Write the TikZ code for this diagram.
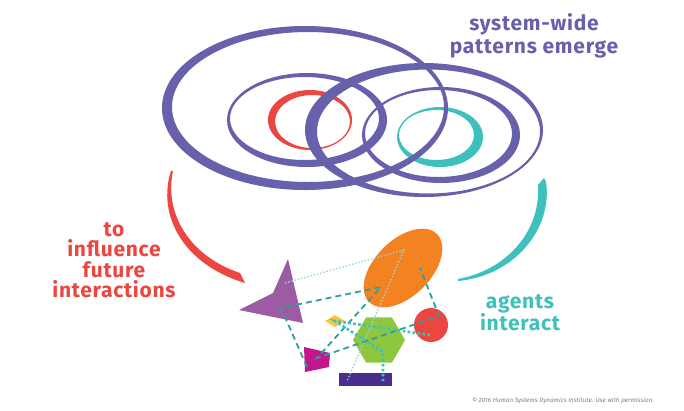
\documentclass[tikz,border=0pt]{standalone}
\usepackage{fontspec}
\setmainfont{Fira Sans}
\usetikzlibrary{shapes.geometric}

\begin{document}
\begin{tikzpicture}[x=1pt,y=-1pt,
    ring/.style={even odd rule},
    bigtext/.style={inner sep=0pt,align=center,font=\fontsize{21}{23}\selectfont\bfseries\addfontfeatures{LetterSpace=3.5}},
    dashlink/.style={draw=hsd_link,line width=1.8pt,dash pattern=on 6pt off 4pt},
    dotlink/.style={draw=hsd_teal,line width=2.6pt,dash pattern=on 2.6pt off 2.4pt},
    faintlink/.style={draw=hsd_faint,line width=1.3pt,dash pattern=on 1.5pt off 1.8pt}]
    \definecolor{hsd_ring}{RGB}{103,96,170}
    \definecolor{hsd_red}{RGB}{236,70,64}
    \definecolor{hsd_teal}{RGB}{62,193,188}
    \definecolor{hsd_link}{RGB}{44,160,160}
    \definecolor{hsd_faint}{RGB}{150,214,214}
    \definecolor{hsd_orange}{RGB}{245,130,32}
    \definecolor{hsd_green}{RGB}{141,198,63}
    \definecolor{hsd_tri}{RGB}{157,91,164}
    \definecolor{hsd_magenta}{RGB}{193,23,141}
    \definecolor{hsd_bar}{RGB}{74,45,140}
    \definecolor{hsd_yellow}{RGB}{252,196,62}
    \useasboundingbox[fill=white] (0,0) rectangle (684,410);

    % the emerging patterns
    \fill[ring,hsd_red]  (310,120) ellipse (42pt and 30pt) (312.5,121.5) ellipse (37.5pt and 26.5pt);
    \fill[ring,hsd_teal] (440,137) ellipse (43pt and 30pt) (436.5,135) ellipse (37.5pt and 25pt);
    \fill[ring,hsd_ring] (307,120) ellipse (80pt and 47pt) (304.5,118.5) ellipse (74.5pt and 41.5pt);
    \fill[ring,hsd_ring] (441,135) ellipse (79pt and 48pt) (438.5,133.5) ellipse (73.5pt and 43.5pt);
    \fill[ring,hsd_ring] (305,108) ellipse (143pt and 82pt) (308,107) ellipse (136pt and 75pt);
    \fill[ring,hsd_ring] (424,130) ellipse (119pt and 67pt) (428.5,131.5) ellipse (111.5pt and 62pt);

    % the two sweeping arrows
    \fill[hsd_red] (171,171) .. controls (157,214) and (182,264) .. (245,283)
        -- (240,273) .. controls (189,256) and (164,213) .. (173,171) -- cycle;
    \fill[hsd_teal] (544,178) -- (546,182) .. controls (553,229) and (514,276) .. (458,281)
        -- (458,279) .. controls (507,270) and (541,231) .. (538,185) -- cycle;

    % the agents
    \fill[hsd_tri] (288,259) -- (303,323) -- (239,310) -- (273,293) -- cycle;
    \fill[hsd_magenta] (304,347) -- (330,353) -- (329,367) -- (305,372) -- cycle;
    \node[shape=ellipse,fill=hsd_orange,rotate=45,minimum width=96pt,minimum height=56pt,inner sep=0pt] (orng) at (403,268) {};
    \node[shape=regular polygon,regular polygon sides=6,fill=hsd_green,minimum size=52pt,inner sep=0pt] (hexa) at (379,340) {};
    \node[shape=circle,fill=hsd_red,minimum size=34pt,inner sep=0pt] (redc) at (431,325) {};
    \node[shape=diamond,fill=hsd_yellow,minimum width=20pt,minimum height=12pt,inner sep=0pt] (dmnd) at (335,321) {};
    \node[shape=rectangle,fill=hsd_bar,minimum width=53pt,minimum height=13pt,inner sep=0pt] (bar) at (365.5,379.5) {};

    \coordinate (triA) at (285,283);
    \coordinate (triB) at (281,308);
    \coordinate (orngA) at (404,250);
    \coordinate (orngB) at (381,287);
    \coordinate (orngC) at (420,268);
    \coordinate (magA) at (307,367);
    \coordinate (magB) at (317,358);
    \coordinate (redA) at (439,316);
    \coordinate (redB) at (430,335);
    \coordinate (hexA) at (383,352);
    \coordinate (barA) at (347,381);
    \coordinate (barB) at (383,381);

    % interactions
    \draw[faintlink] (triA) -- (orngA) -- (barA);
    \draw[dashlink] (magA) -- (triB) -- (orngB) -- (magB) -- (redA) -- (orngC);
    \draw[dotlink] (redB) -- (dmnd.center) -- (hexA) -- (barB);

    % texts
    \node[bigtext,text=hsd_ring,anchor=north] (emerge) at (534,13) {system-wide\\patterns emerge};
    \node[bigtext,text=hsd_red,anchor=north,font=\fontsize{21}{20.5}\selectfont\bfseries\addfontfeatures{LetterSpace=3.5}] (influence) at (114,222) {to\\influence\\future\\interactions};
    \node[bigtext,text=hsd_teal,anchor=north,font=\fontsize{21}{21}\selectfont\bfseries\addfontfeatures{LetterSpace=3.5}] (interact) at (520,294) {agents\\interact};
    \node[inner sep=0pt,text=gray,font=\fontsize{6.3}{7}\selectfont\itshape] (copy) at (563,401) {© 2016 Human Systems Dynamics Institute. Use with permission.};
\end{tikzpicture}
\end{document}
